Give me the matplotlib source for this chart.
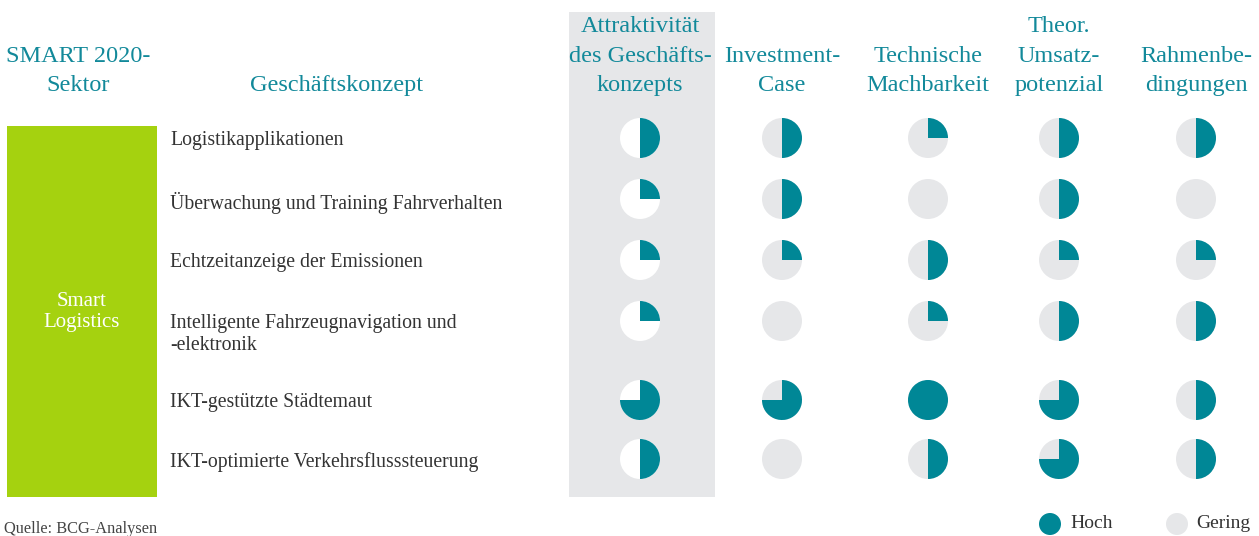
import matplotlib.pyplot as plt
from matplotlib.patches import Wedge, Circle, Rectangle

plt.rcParams['font.family'] = ['Liberation Serif', 'DejaVu Serif']

# data
columns = ['Attraktivität\ndes Geschäfts-\nkonzepts', 'Investment-\nCase',
           'Technische\nMachbarkeit', 'Theor.\nUmsatz-\npotenzial', 'Rahmenbe-\ndingungen']
concepts = ['Logistikapplikationen',
            'Überwachung und Training Fahrverhalten',
            'Echtzeitanzeige der Emissionen',
            'Intelligente Fahrzeugnavigation und\n-elektronik',
            'IKT-gestützte Städtemaut',
            'IKT-optimierte Verkehrsflusssteuerung']
sector = 'Smart\nLogistics'

# share of the ball that is filled (0 = gering, 1 = hoch), one list per column
attraktivitaet = [0.5, 0.25, 0.25, 0.25, 0.75, 0.5]
investment = [0.5, 0.5, 0.25, 0.0, 0.75, 0.0]
technik = [0.25, 0.0, 0.5, 0.25, 1.0, 0.5]
umsatz = [0.5, 0.5, 0.25, 0.5, 0.75, 0.75]
rahmen = [0.5, 0.0, 0.25, 0.5, 0.5, 0.5]
scores = [attraktivitaet, investment, technik, umsatz, rahmen]

# layout (pixels)
col_x = [640, 782, 928, 1059, 1196]
row_y = [138, 199, 260, 321, 400, 459]
r = 20

teal = '#008796'
gray = '#E6E7E9'
green = '#A5D20F'
head_col = '#12899A'
txt_col = '#333333'

fig = plt.figure(figsize=(12.59, 5.36), dpi=100)
ax = fig.add_axes([0, 0, 1, 1])
ax.set_xlim(0, 1259)
ax.set_ylim(536, 0)
ax.axis('off')

# highlighted column and sector box
ax.add_patch(Rectangle((569, 12), 146, 485, color=gray, lw=0))
ax.add_patch(Rectangle((7, 126), 150, 371, color=green, lw=0))
ax.text(82, 312, sector, color='white', fontsize=15, ha='center', va='center',
        linespacing=1.15)

# headers
def header(x, s):
    lines = s.split('\n')
    for i, ln in enumerate(lines):
        ax.text(x, 85.5 - 29.5 * (len(lines) - 1 - i), ln, color=head_col,
                fontsize=17.5, ha='center', va='center')

header(78, 'SMART 2020-\nSektor')
header(337, 'Geschäftskonzept')
for x, c in zip(col_x, columns):
    header(x, c)

# concept labels
for y, c in zip(row_y, concepts):
    ax.text(170, y - 7, c, color=txt_col, fontsize=14.2, ha='left', va='top',
            linespacing=1.2)

# harvey balls
for j, (x, vals) in enumerate(zip(col_x, scores)):
    bg = 'white' if j == 0 else gray
    for y, v in zip(row_y, vals):
        ax.add_patch(Circle((x, y), r, color=bg, lw=0))
        if v > 0:
            ax.add_patch(Wedge((x, y), r, -90, -90 + 360 * v, color=teal, lw=0))

# legend and source
ax.add_patch(Circle((1050, 524), 11, color=teal, lw=0))
ax.text(1070, 524, 'Hoch', color=txt_col, fontsize=14, va='center')
ax.add_patch(Circle((1177, 524), 11, color=gray, lw=0))
ax.text(1196, 524, 'Gering', color=txt_col, fontsize=14, va='center')
ax.text(4, 529, 'Quelle: BCG-Analysen', color='#444444', fontsize=11.8, va='center')

fig.savefig('out.png', dpi=100)
